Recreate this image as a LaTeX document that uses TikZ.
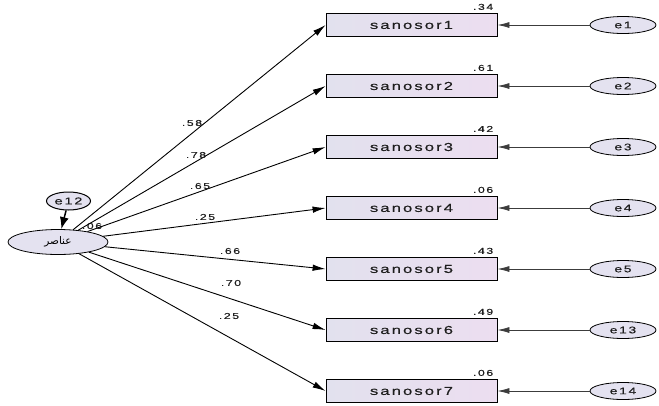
\documentclass[tikz,border=0pt]{standalone}
\usepackage{fontspec}
\setmainfont{Liberation Sans}[LetterSpace=18,FakeStretch=1.45,FakeBold=0.4]
\newfontfamily\arabicfont[Script=Arabic]{DejaVu Sans}
\TeXXeTstate=1
\usetikzlibrary{arrows.meta,shapes.geometric}

\definecolor{boxleft}{RGB}{226,225,238}
\definecolor{boxright}{RGB}{236,222,240}
\definecolor{ellfill}{RGB}{228,226,240}
\definecolor{errline}{RGB}{60,60,60}
\definecolor{txt}{RGB}{30,30,30}

\tikzset{
  obsbox/.style={draw=black,line width=0.8pt,left color=boxleft,right color=boxright,
    minimum width=171pt,minimum height=23pt,inner sep=0pt,text=txt,font=\fontsize{11.5}{12}\selectfont},
  errell/.style={draw=black,line width=0.8pt,fill=ellfill,ellipse,minimum width=66pt,
    minimum height=17pt,inner sep=0pt,text=txt,font=\fontsize{9.5}{10}\selectfont},
  coef/.style={inner sep=0pt,text=txt,font=\fontsize{8.5}{9}\selectfont},
  path/.style={draw,line width=0.9pt,-{Latex[length=13pt,width=6.5pt]}},
  errpath/.style={draw=errline,line width=0.8pt,-{Latex[length=12pt,width=6pt]}}
}

\begin{document}
\begin{tikzpicture}[x=1pt,y=-1pt]
  \useasboundingbox (0,0) rectangle (659,405);
  % latent variable and its error
  \node[draw,line width=0.8pt,fill=ellfill,ellipse,minimum width=100pt,minimum height=25pt,inner sep=0pt] (lat) at (58,242)
    {\arabicfont\fontsize{10.5}{11}\selectfont\beginR عناصر\endR};
  \node[errell,line width=1pt,minimum width=44pt,minimum height=18pt,font=\fontsize{10}{11}\selectfont] (e12) at (68.5,201) {e12};
  \draw[line width=1.5pt,-{Latex[length=12pt,width=9pt]}] (e12) -- (lat);
  \node[coef] (r12) at (92,226) {.06};
  % observed variables
  \node[obsbox] (s1) at (411.5,25) {sanosor1};
  \node[obsbox] (s2) at (411.5,86) {sanosor2};
  \node[obsbox] (s3) at (411.5,147) {sanosor3};
  \node[obsbox] (s4) at (411.5,208) {sanosor4};
  \node[obsbox] (s5) at (411.5,269) {sanosor5};
  \node[obsbox] (s6) at (411.5,330) {sanosor6};
  \node[obsbox] (s7) at (411.5,391) {sanosor7};
  % squared multiple correlations
  \node[coef,anchor=south east] (q1) at ([xshift=-4pt,yshift=3pt]s1.north east) {.34};
  \node[coef,anchor=south east] (q2) at ([xshift=-4pt,yshift=3pt]s2.north east) {.61};
  \node[coef,anchor=south east] (q3) at ([xshift=-4pt,yshift=3pt]s3.north east) {.42};
  \node[coef,anchor=south east] (q4) at ([xshift=-4pt,yshift=3pt]s4.north east) {.06};
  \node[coef,anchor=south east] (q5) at ([xshift=-4pt,yshift=3pt]s5.north east) {.43};
  \node[coef,anchor=south east] (q6) at ([xshift=-4pt,yshift=3pt]s6.north east) {.49};
  \node[coef,anchor=south east] (q7) at ([xshift=-4pt,yshift=3pt]s7.north east) {.06};
  % error terms
  \node[errell] (e1) at (623,25) {e1};
  \node[errell] (e2) at (623,86) {e2};
  \node[errell] (e3) at (623,147) {e3};
  \node[errell] (e4) at (623,208) {e4};
  \node[errell] (e5) at (623,269) {e5};
  \node[errell] (e13) at (623,330) {e13};
  \node[errell] (e14) at (623,391) {e14};
  \draw[errpath] (e1) -- (s1);
  \draw[errpath] (e2) -- (s2);
  \draw[errpath] (e3) -- (s3);
  \draw[errpath] (e4) -- (s4);
  \draw[errpath] (e5) -- (s5);
  \draw[errpath] (e13) -- (s6);
  \draw[errpath] (e14) -- (s7);
  % loadings
  \draw[path] (lat) -- (s1.west);
  \draw[path] (lat) -- (s2.west);
  \draw[path] (lat) -- (s3.west);
  \draw[path] (lat) -- (s4.west);
  \draw[path] (lat) -- (s5.west);
  \draw[path] (lat) -- (s6.west);
  \draw[path] (lat) -- (s7.west);
  \node[coef] (l1) at (192,123) {.58};
  \node[coef] (l2) at (196,155) {.78};
  \node[coef] (l3) at (200,186) {.65};
  \node[coef] (l4) at (205,217) {.25};
  \node[coef] (l5) at (230,251) {.66};
  \node[coef] (l6) at (231,283) {.70};
  \node[coef] (l7) at (229,316) {.25};
\end{tikzpicture}
\end{document}
